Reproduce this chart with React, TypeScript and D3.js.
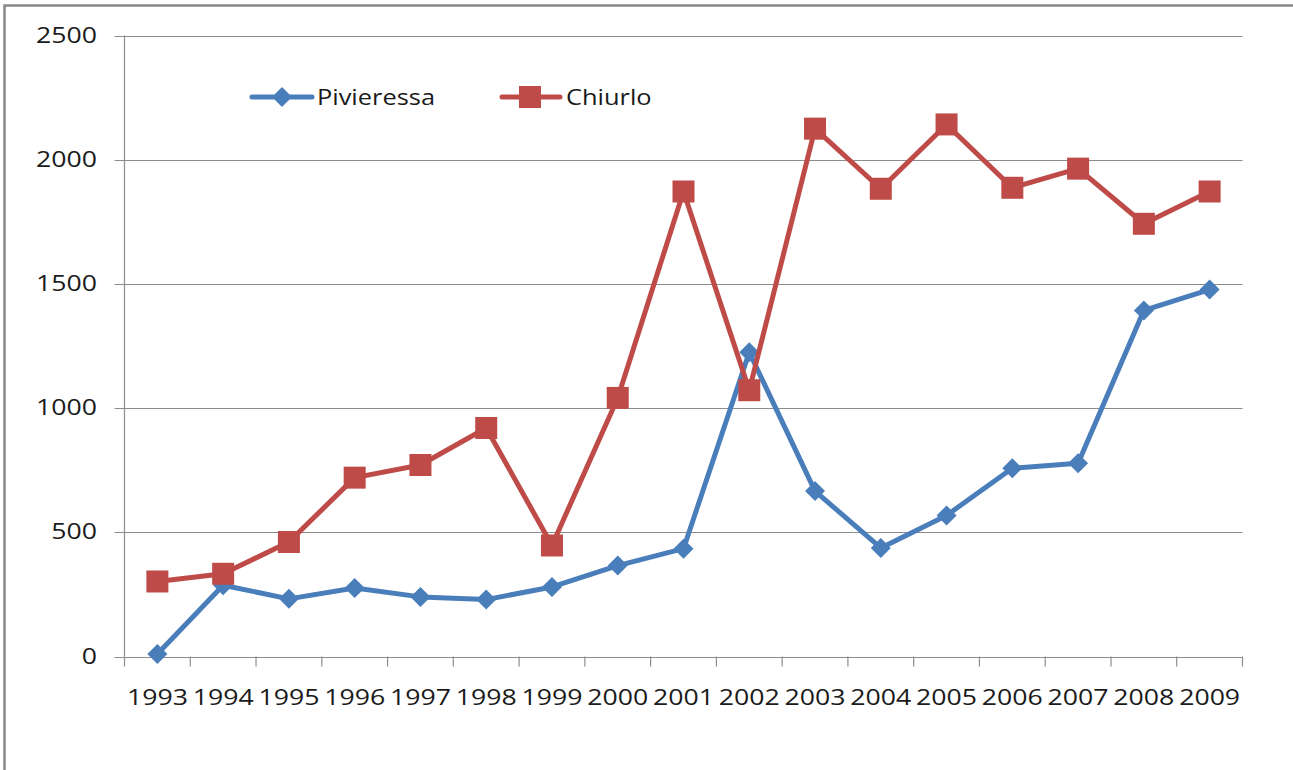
import React from "react";
import * as d3 from "d3";

const years = ["1993","1994","1995","1996","1997","1998","1999","2000","2001","2002","2003","2004","2005","2006","2007","2008","2009"];
const pivieressa = [10, 287, 232, 276, 240, 229, 280, 366, 434, 1225, 666, 437, 568, 758, 778, 1393, 1477];
const chiurlo = [302, 333, 461, 720, 771, 920, 447, 1041, 1872, 1072, 2125, 1883, 2142, 1887, 1964, 1742, 1872];
const yTicks = [0, 500, 1000, 1500, 2000, 2500];

const W = 1293, H = 770;
const left = 124.5, right = 1242.5, top = 35.5, bottom = 656.5;
const BLUE = "#4A7EBB", RED = "#BE4B48", GRID = "#8c8c8c";
const FONT = "'Open Sans', 'Liberation Sans', sans-serif";

function T({ x, y, anchor, sx, children }: { x: number; y: number; anchor: string; sx: number; children: React.ReactNode }) {
  return (
    <text transform={`translate(${x},${y}) scale(${sx},1)`} textAnchor={anchor} fontFamily={FONT} fontSize={21} fill="#1a1a1a">
      {children}
    </text>
  );
}

export default function App() {
  const x = d3.scaleBand<string>().domain(years).range([left, right]);
  const y = d3.scaleLinear().domain([0, 2500]).range([bottom, top]);
  const cx = (i: number) => (x(years[i]) as number) + x.bandwidth() / 2;
  const line = d3.line<number>().x((_, i) => cx(i)).y((d) => y(d));
  const diamond = (px: number, py: number, r: number) =>
    `M${px},${py - r}L${px + r},${py}L${px},${py + r}L${px - r},${py}Z`;
  const boundaries = years.map((yr) => x(yr) as number).concat([right]);
  const S = 22;

  return (
    <svg width={W} height={H} style={{ position: "absolute", left: 0, top: 0, background: "#fff" }}>
      <rect x={4.5} y={5.5} width={W + 10} height={H + 10} fill="none" stroke="#888" strokeWidth={2.5} />
      {yTicks.map((t) => (
        <g key={t}>
          <line x1={left - 10} x2={right} y1={Math.round(y(t)) + 0.5} y2={Math.round(y(t)) + 0.5} stroke={GRID} strokeWidth={1.2} />
          <T x={97} y={y(t) + 7} anchor="end" sx={1.27}>{t}</T>
        </g>
      ))}
      <line x1={left} x2={left} y1={top} y2={bottom} stroke={GRID} strokeWidth={1.2} />
      {boundaries.map((b, i) => (
        <line key={i} x1={b} x2={b} y1={bottom} y2={bottom + 10} stroke={GRID} strokeWidth={1.2} />
      ))}
      {years.map((yr, i) => (
        <T key={yr} x={cx(i)} y={705} anchor="middle" sx={1.27}>{yr}</T>
      ))}
      <path d={line(pivieressa) || ""} fill="none" stroke={BLUE} strokeWidth={5} strokeLinejoin="round" />
      {pivieressa.map((v, i) => (
        <path key={i} d={diamond(cx(i), y(v), 10)} fill={BLUE} />
      ))}
      <path d={line(chiurlo) || ""} fill="none" stroke={RED} strokeWidth={5} strokeLinejoin="round" />
      {chiurlo.map((v, i) => (
        <rect key={i} x={cx(i) - S / 2} y={y(v) - S / 2} width={S} height={S} fill={RED} />
      ))}
      <g>
        <line x1={252} x2={312} y1={97} y2={97} stroke={BLUE} strokeWidth={5} strokeLinecap="round" />
        <path d={diamond(282, 97, 10)} fill={BLUE} />
        <T x={317} y={104.5} anchor="start" sx={1.21}>Pivieressa</T>
        <line x1={502} x2={560} y1={97} y2={97} stroke={RED} strokeWidth={5} strokeLinecap="round" />
        <rect x={530 - S / 2} y={97 - S / 2} width={S} height={S} fill={RED} />
        <T x={566} y={104.5} anchor="start" sx={1.21}>Chiurlo</T>
      </g>
    </svg>
  );
}
